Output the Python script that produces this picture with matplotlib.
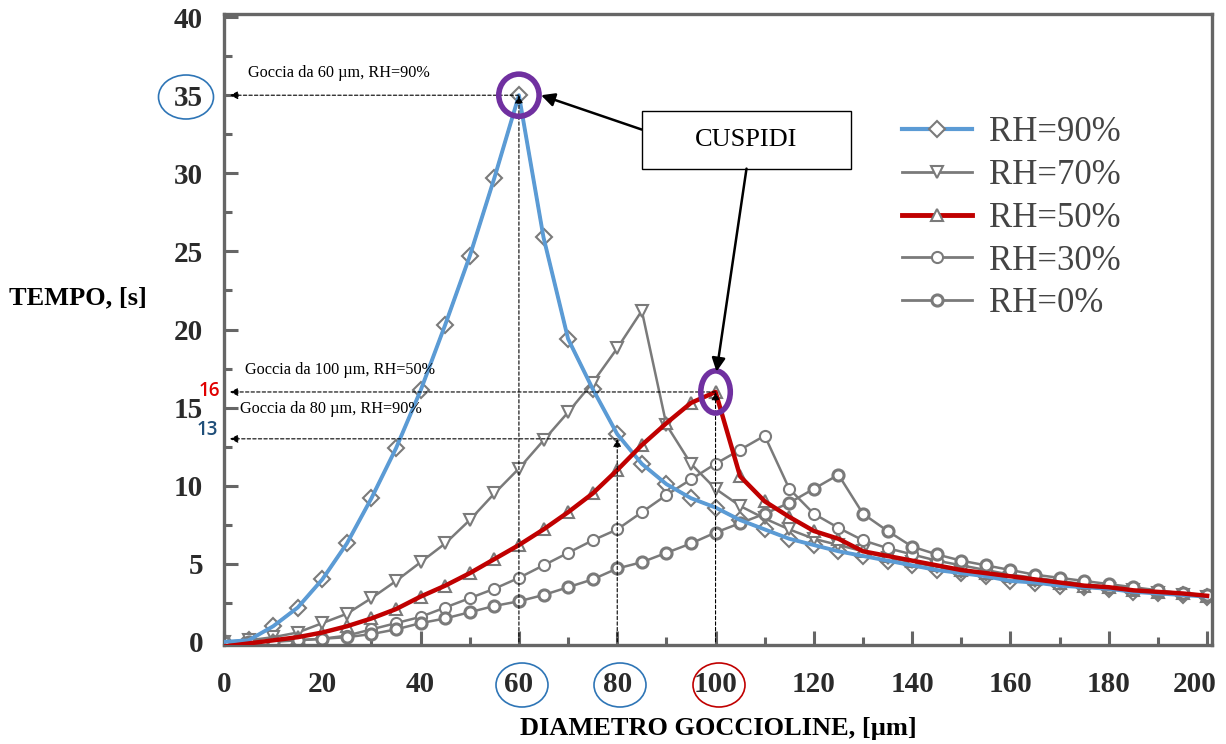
import matplotlib.pyplot as plt
from matplotlib.patches import Ellipse, Rectangle
from matplotlib.lines import Line2D
from matplotlib.transforms import ScaledTranslation

# dati (diametro in micron, tempo in s)
diametro = [0, 5, 10, 15, 20, 25, 30, 35, 40, 45, 50, 55, 60, 65, 70, 75, 80, 85, 90, 95, 100,
            105, 110, 115, 120, 125, 130, 135, 140, 145, 150, 155, 160, 165, 170, 175, 180,
            185, 190, 195, 200]

rh90 = [0, 0.1, 1.0, 2.2, 4.0, 6.3, 9.2, 12.4, 16.1, 20.3, 24.7, 29.7, 35.0, 25.9, 19.4, 16.2,
        13.3, 11.4, 10.1, 9.2, 8.6, 7.8, 7.2, 6.6, 6.2, 5.8, 5.5, 5.2, 4.9, 4.6, 4.4, 4.2,
        3.9, 3.8, 3.6, 3.5, 3.4, 3.2, 3.1, 3.0, 2.9]
rh70 = [0, 0.1, 0.3, 0.6, 1.2, 1.8, 2.8, 3.9, 5.1, 6.3, 7.8, 9.5, 11.1, 12.9, 14.7, 16.6,
        18.8, 21.2, 13.9, 11.4, 9.8, 8.7, 7.9, 7.2, 6.6, 6.2, 5.8, 5.4, 5.1, 4.8, 4.5, 4.3,
        4.1, 3.9, 3.7, 3.5, 3.4, 3.3, 3.1, 3.0, 2.9]
rh50 = [-0.3, -0.1, 0.1, 0.3, 0.6, 1.0, 1.5, 2.1, 2.9, 3.6, 4.4, 5.3, 6.2, 7.2, 8.3, 9.5,
        11.0, 12.6, 14.0, 15.3, 16.0, 10.6, 9.0, 8.0, 7.1, 6.6, 5.8, 5.5, 5.2, 4.9, 4.6, 4.4,
        4.2, 4.0, 3.8, 3.6, 3.5, 3.3, 3.2, 3.1, 2.95]
rh30 = [0, 0, 0.05, 0.1, 0.2, 0.4, 0.8, 1.2, 1.6, 2.2, 2.8, 3.4, 4.1, 4.9, 5.7, 6.5, 7.2,
        8.3, 9.4, 10.4, 11.4, 12.3, 13.2, 9.8, 8.2, 7.3, 6.5, 6.0, 5.6, 5.2, 4.9, 4.6, 4.3,
        4.1, 3.9, 3.7, 3.5, 3.4, 3.2, 3.1, 3.0]
rh0 = [0, 0, 0, 0.1, 0.2, 0.3, 0.5, 0.8, 1.2, 1.5, 1.9, 2.3, 2.6, 3.0, 3.5, 4.0, 4.7, 5.1,
       5.7, 6.3, 7.0, 7.6, 8.2, 8.9, 9.8, 10.7, 8.2, 7.1, 6.1, 5.6, 5.2, 4.9, 4.6, 4.3, 4.1,
       3.9, 3.7, 3.5, 3.3, 3.1, 3.0]

etichette = ['RH=90%', 'RH=70%', 'RH=50%', 'RH=30%', 'RH=0%']
marcatori = ['D', 'v', '^', 'o', 'o']

grigio = '#7a7a7a'
blu = '#5b9bd5'
rosso = '#c00000'
viola = '#7030a0'
serif = 'Liberation Serif'

W, H = 1226, 744
fig = plt.figure(figsize=(W / 100, H / 100), dpi=100)
ax = fig.add_axes([224 / W, 1 - 645 / H, 988 / W, 631 / H])

serie = [rh90, rh70, rh50, rh30, rh0]
for y, m, lab in zip(serie, marcatori, etichette):
    mew = 2.2 if lab == 'RH=0%' else 1.5
    ax.plot(diametro, y, color=grigio, lw=1.8, marker=m, ms=8, mfc='white',
            mec=grigio, mew=mew, zorder=2)
ax.plot(diametro, rh90, color=blu, lw=2.8, zorder=3)
ax.plot(diametro, rh50, color=rosso, lw=3.2, zorder=3)

# assi
ax.set_xlim(0, 201)
ax.set_ylim(-0.2, 40.2)
ax.set_xticks(range(0, 201, 20))
ax.set_xticks(range(0, 201, 10), minor=True)
ax.set_yticks(range(0, 41, 5))
ax.set_yticks([i * 2.5 for i in range(17)], minor=True)
for s in ax.spines.values():
    s.set_color('#666666')
    s.set_linewidth(2.4)
ax.tick_params(which='both', direction='in', color='#666666', width=2.2)
ax.tick_params(which='major', length=10)
ax.tick_params(which='minor', length=6)
ax.tick_params(axis='x', pad=19)
ax.tick_params(axis='y', pad=15)
for t in ax.get_xticklabels() + ax.get_yticklabels():
    t.set_fontfamily(serif)
    t.set_fontweight('bold')
    t.set_fontsize(21)
    t.set_color('#2a2a2a')
# l'ultima etichetta (200) spostata un po' a sinistra per non uscire dal bordo
ultima = ax.xaxis.get_major_ticks()[-1].label1
ultima.set_transform(ultima.get_transform() + ScaledTranslation(-0.12, 0, fig.dpi_scale_trans))

fig.text(78 / W, 1 - 298 / H, 'TEMPO, [s]', ha='center', va='center',
         family=serif, weight='bold', fontsize=19)
fig.text(718 / W, 1 - 728 / H, 'DIAMETRO GOCCIOLINE, [µm]', ha='center', va='center',
         family=serif, weight='bold', fontsize=19)

# frecce tratteggiate verso gli assi
punti = [(60, 35), (80, 13), (100, 16)]
for px, py in punti:
    ax.annotate('', xy=(px, py), xytext=(px, 0),
                arrowprops=dict(arrowstyle='-|>', color='black', lw=0.8, ls=(0, (3, 2)),
                                mutation_scale=12, shrinkA=0, shrinkB=0), zorder=4)
    ax.annotate('', xy=(1.2, py), xytext=(px, py),
                arrowprops=dict(arrowstyle='-|>', color='black', lw=0.8, ls=(0, (3, 2)),
                                mutation_scale=12, shrinkA=0, shrinkB=0), zorder=4)

ax.text(4.9, 36.4, 'Goccia da 60 µm, RH=90%', family=serif, fontsize=11.7, va='center')
ax.text(4.3, 17.4, 'Goccia da 100 µm, RH=50%', family=serif, fontsize=11.7, va='center')
ax.text(3.2, 14.9, 'Goccia da 80 µm, RH=90%', family=serif, fontsize=11.7, va='center')

# cuspidi
ax.add_patch(Ellipse((60, 35), 8.2, 2.7, fill=False, ec=viola, lw=4, zorder=5))
ax.add_patch(Ellipse((100, 16), 6.0, 2.7, fill=False, ec=viola, lw=4, zorder=5))
ax.add_patch(Rectangle((85, 30.3), 42.6, 3.7, fc='white', ec='black', lw=1, zorder=5))
ax.text(106.3, 32.15, 'CUSPIDI', family=serif, fontsize=19, ha='center', va='center', zorder=6)
ax.annotate('', xy=(64.5, 35.0), xytext=(85, 32.8),
            arrowprops=dict(arrowstyle='-|>', color='black', lw=1.8, mutation_scale=20,
                            shrinkA=0, shrinkB=0), zorder=6)
ax.annotate('', xy=(100.2, 17.3), xytext=(106.3, 30.3),
            arrowprops=dict(arrowstyle='-|>', color='black', lw=1.8, mutation_scale=20,
                            shrinkA=0, shrinkB=0), zorder=6)

# cerchi attorno alle etichette
def cerchio(x, y, w, h, c):
    fig.patches.append(Ellipse((x / W, 1 - y / H), w / W, h / H, fill=False, ec=c, lw=1.2,
                               transform=fig.transFigure))

cerchio(186, 97, 55, 44, '#2e75b6')
cerchio(522, 685, 52, 44, '#2e75b6')
cerchio(620, 685, 52, 44, '#2e75b6')
cerchio(719, 685, 52, 44, '#c00000')
fig.text(209 / W, 1 - 391 / H, '16', color='#e00000', fontsize=13.5, ha='center', va='center',
         family='Open Sans', weight='semibold')
fig.text(207 / W, 1 - 430 / H, '13', color='#1f4e79', fontsize=13.5, ha='center', va='center',
         family='Open Sans', weight='semibold')

# legenda
maniglie = [
    Line2D([], [], color=blu, lw=3, marker='D', ms=8, mfc='white', mec=grigio, mew=1.5),
    Line2D([], [], color=grigio, lw=2, marker='v', ms=8, mfc='white', mec=grigio, mew=1.5),
    Line2D([], [], color=rosso, lw=3.5, marker='^', ms=8, mfc='white', mec=grigio, mew=1.5),
    Line2D([], [], color=grigio, lw=2, marker='o', ms=8, mfc='white', mec=grigio, mew=1.5),
    Line2D([], [], color=grigio, lw=2, marker='o', ms=8, mfc='white', mec=grigio, mew=2.2),
]
leg = fig.legend(maniglie, etichette, loc='upper left', bbox_to_anchor=(885 / W, 1 - 99 / H),
                 frameon=False, prop={'family': serif, 'size': 25}, labelspacing=0.28,
                 handlelength=2.0, handletextpad=0.5, borderpad=0)
for t in leg.get_texts():
    t.set_color('#444444')

plt.savefig('out.png', dpi=100)
